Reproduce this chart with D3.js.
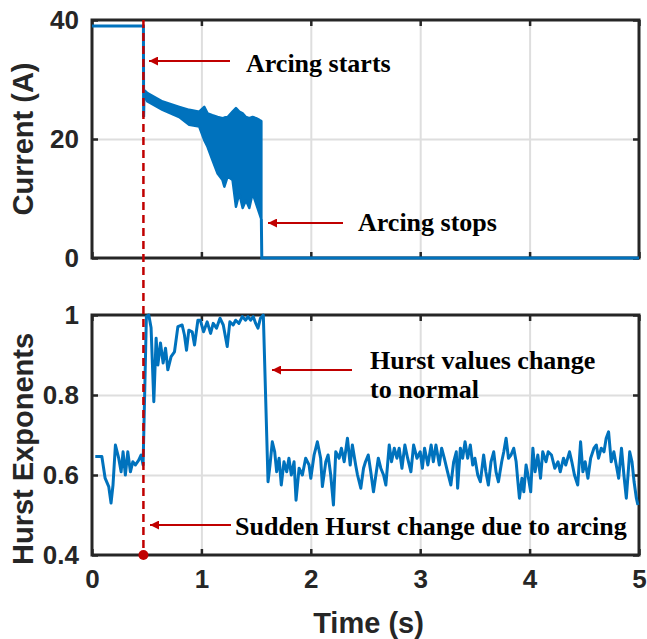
<!DOCTYPE html>
<html lang='en'>
<head>
<meta charset='utf-8'>
<title>Arcing current and Hurst exponents</title>
<script src='https://cdn.jsdelivr.net/npm/d3@7'></script>
<style>
  body { margin: 0; background: #fff; }
  .tick text { font-family: 'Liberation Sans', Arial, sans-serif; font-weight: bold; font-size: 26px; fill: #262626; }
  .lbl { font-family: 'Liberation Sans', Arial, sans-serif; font-weight: bold; font-size: 29px; fill: #262626; }
  .note { font-family: 'Liberation Serif', 'Times New Roman', serif; font-weight: bold; font-size: 26px; fill: #000; }
</style>
</head>
<body>
<script>
// ---- data ----
var xTicks = [0, 1, 2, 3, 4, 5];
var currentTicks = [0, 20, 40];
var hurstTicks = [0.4, 0.6, 0.8, 1];
var arcStart = 0.47;

// current before arcing and the first drop
var currentPre = [[0, 39], [0.47, 39], [0.472, 23.7], [0.476, 28.2], [0.5, 27.6]];
// noisy part of the current during arcing: envelope (time, upper, lower)
var bandTime  = [0.49, 0.507, 0.645, 0.797, 0.888, 0.98, 1.026, 1.056, 1.1, 1.148, 1.193, 1.21, 1.24, 1.285, 1.316, 1.346, 1.377, 1.407, 1.438, 1.468, 1.499, 1.53, 1.548];
var bandUpper = [28, 27.7, 26.3, 25.4, 24.9, 24.6, 25.4, 24.3, 24.0, 23.7, 23.5, 23.6, 23.7, 24.6, 25.2, 24.6, 24.3, 23.7, 23.5, 23.7, 23.5, 23.2, 23.0];
var bandLower = [26.8, 26.3, 24.9, 23.7, 22.4, 22.1, 19.8, 18.7, 16.5, 14.2, 13.1, 12.0, 13.7, 13.1, 8.6, 10.9, 8.4, 9.7, 8.4, 10.9, 9.2, 7.5, 6.5];
// current after arcing stops
var currentPost = [[1.548, 6.5], [1.552, 0], [5, 0]];

var hurstPoints = [[0.03,0.646],[0.09,0.646],[0.12,0.592],[0.153,0.571],[0.174,0.53],[0.192,0.575],[0.214,0.675],[0.244,0.642],[0.266,0.608],[0.284,0.658],[0.305,0.60],[0.327,0.658],[0.351,0.608],[0.373,0.633],[0.397,0.625],[0.427,0.637],[0.449,0.65],[0.467,0.625],
  [0.497,0.996],[0.519,1.0],[0.54,0.968],[0.565,0.783],[0.586,0.942],[0.602,0.875],[0.626,0.93],[0.65,0.88],[0.672,0.917],[0.693,0.863],[0.723,0.896],[0.754,0.908],[0.785,0.971],[0.824,0.975],[0.845,0.95],[0.864,0.912],[0.885,0.962],[0.916,0.958],[0.937,0.925],[0.968,0.987],
  [0.99,0.987],[1.02,0.958],[1.053,0.983],[1.084,0.954],[1.108,0.979],[1.138,0.967],[1.17,0.992],[1.2,0.975],[1.236,0.921],[1.26,0.983],[1.29,0.975],[1.313,0.987],[1.343,0.979],[1.374,0.996],[1.404,0.987],[1.426,0.996],[1.45,0.987],[1.474,0.996],[1.496,0.979],[1.517,0.967],[1.54,0.992],[1.566,1.0],
  [1.609,0.583],[1.627,0.625],[1.648,0.683],[1.67,0.658],[1.688,0.608],[1.71,0.642],[1.73,0.575],[1.755,0.633],[1.78,0.608],[1.80,0.642],[1.822,0.60],[1.847,0.633],[1.865,0.537],[1.893,0.617],[1.923,0.60],[1.953,0.642],[1.984,0.625],
  [2.0,0.592],[2.03,0.65],[2.06,0.683],[2.09,0.642],[2.106,0.571],[2.137,0.633],[2.158,0.65],[2.182,0.60],[2.207,0.525],[2.228,0.658],[2.259,0.642],[2.28,0.667],[2.305,0.633],[2.335,0.692],[2.36,0.625],[2.38,0.675],[2.41,0.625],[2.427,0.60],[2.457,0.567],[2.482,0.617],[2.50,0.633],[2.525,0.65],[2.548,0.608],[2.573,0.558],[2.595,0.60],[2.617,0.642],[2.64,0.617],[2.665,0.60],[2.686,0.575],[2.717,0.675],[2.738,0.633],[2.763,0.667],[2.787,0.642],[2.808,0.667],[2.833,0.617],[2.86,0.675],[2.885,0.642],[2.915,0.608],[2.94,0.675],[2.97,0.642],
  [3.0,0.658],[3.02,0.617],[3.04,0.667],[3.07,0.625],[3.10,0.675],[3.12,0.633],[3.144,0.675],[3.175,0.625],[3.196,0.667],[3.22,0.642],[3.25,0.608],[3.28,0.575],[3.306,0.633],[3.33,0.658],[3.342,0.567],[3.367,0.667],[3.388,0.642],[3.41,0.683],[3.434,0.642],[3.458,0.675],[3.48,0.625],[3.50,0.642],[3.526,0.60],[3.55,0.583],[3.58,0.65],[3.60,0.608],[3.623,0.575],[3.647,0.633],[3.672,0.658],[3.693,0.608],[3.715,0.583],[3.745,0.633],[3.764,0.658],[3.785,0.692],[3.807,0.642],[3.83,0.65],[3.855,0.667],[3.877,0.633],[3.89,0.592],[3.907,0.542],[3.93,0.592],[3.947,0.558],[3.968,0.625],[3.985,0.60],
  [4.01,0.558],[4.03,0.667],[4.05,0.608],[4.075,0.65],[4.10,0.592],[4.12,0.658],[4.15,0.633],[4.17,0.658],[4.20,0.65],[4.23,0.617],[4.26,0.633],[4.28,0.608],[4.31,0.642],[4.33,0.625],[4.365,0.658],[4.386,0.633],[4.41,0.60],[4.44,0.575],[4.466,0.683],[4.487,0.608],[4.508,0.633],[4.533,0.592],[4.558,0.642],[4.588,0.667],[4.61,0.675],[4.63,0.642],[4.655,0.667],[4.68,0.658],[4.70,0.692],[4.722,0.708],[4.746,0.633],[4.77,0.658],[4.792,0.625],[4.814,0.592],[4.84,0.667],[4.862,0.60],[4.884,0.542],[4.915,0.658],[4.936,0.633],[4.955,0.583],[4.976,0.542],[4.99,0.525]];

// ---- drawing ----
var width = 647, height = 639;
var blue = '#0072BD', red = '#C00000', ink = '#262626', gridCol = '#dedede';
var svg = d3.select('body').append('svg').attr('width', width).attr('height', height);

svg.append('defs').append('marker')
  .attr('id', 'head').attr('viewBox', '0 0 10 10').attr('refX', 10).attr('refY', 5)
  .attr('markerWidth', 6).attr('markerHeight', 4.5).attr('markerUnits', 'strokeWidth').attr('orient', 'auto')
  .append('path').attr('d', 'M0,0 L10,5 L0,10 z').attr('fill', red);

var left = 92, right = 639;
var x = d3.scaleLinear().domain([0, 5]).range([left, right]);
var yCur = d3.scaleLinear().domain([0, 40]).range([258, 20]);
var yHur = d3.scaleLinear().domain([0.4, 1]).range([555, 315]);

function panel(y, yTicks, showX, yFmt) {
  var top = y.range()[1], bottom = y.range()[0];
  var g = svg.append('g');
  // grid
  g.append('g').attr('transform', 'translate(0,' + bottom + ')')
    .call(d3.axisBottom(x).tickValues(xTicks.slice(1, -1)).tickSize(-(bottom - top)).tickFormat(''))
    .call(s => s.select('.domain').remove())
    .selectAll('line').attr('stroke', gridCol).attr('stroke-width', 2);
  g.append('g').attr('transform', 'translate(' + left + ',0)')
    .call(d3.axisLeft(y).tickValues(yTicks.slice(1, -1)).tickSize(-(right - left)).tickFormat(''))
    .call(s => s.select('.domain').remove())
    .selectAll('line').attr('stroke', gridCol).attr('stroke-width', 2);
  // box
  g.append('rect').attr('x', left).attr('y', top).attr('width', right - left).attr('height', bottom - top)
    .attr('fill', 'none').attr('stroke', ink).attr('stroke-width', 3);
  // inward ticks
  var xb = d3.axisBottom(x).tickValues(xTicks).tickSize(-6).tickPadding(15).tickFormat(d3.format('d'));
  if (!showX) xb.tickFormat('');
  g.append('g').attr('transform', 'translate(0,' + bottom + ')').call(xb);
  g.append('g').attr('transform', 'translate(0,' + top + ')')
    .call(d3.axisTop(x).tickValues(xTicks).tickSize(-6).tickFormat(''));
  g.append('g').attr('transform', 'translate(' + left + ',0)')
    .call(d3.axisLeft(y).tickValues(yTicks).tickSize(-6).tickPadding(13).tickFormat(yFmt));
  g.append('g').attr('transform', 'translate(' + right + ',0)')
    .call(d3.axisRight(y).tickValues(yTicks).tickSize(-6).tickFormat(''));
  g.selectAll('.domain').remove();
  g.selectAll('.tick line').filter(function () { return this.getAttribute('stroke') === 'currentColor'; })
    .attr('stroke', ink).attr('stroke-width', 2.5);
  g.selectAll('.tick text').attr('fill', ink);
  return g;
}

panel(yCur, currentTicks, false, d3.format('d'));
panel(yHur, hurstTicks, true, d => d === 1 ? '1' : d3.format('.1f')(d));

// current trace
var curLine = d3.line().x(d => x(d[0])).y(d => yCur(d[1]));
var bandData = bandTime.map((t, i) => [t, bandUpper[i], bandLower[i]]);
svg.append('path').datum(bandData)
  .attr('d', d3.area().x(d => x(d[0])).y0(d => yCur(d[2])).y1(d => yCur(d[1])))
  .attr('fill', blue).attr('stroke', blue).attr('stroke-width', 2.5).attr('stroke-linejoin', 'round');
svg.append('path').datum(currentPre).attr('d', curLine)
  .attr('fill', 'none').attr('stroke', blue).attr('stroke-width', 3);
svg.append('path').datum(currentPost).attr('d', curLine)
  .attr('fill', 'none').attr('stroke', blue).attr('stroke-width', 3);

// hurst trace
svg.append('path').datum(hurstPoints)
  .attr('d', d3.line().x(d => x(d[0])).y(d => yHur(d[1])))
  .attr('fill', 'none').attr('stroke', blue).attr('stroke-width', 3).attr('stroke-linejoin', 'round');

// axis titles
svg.append('text').attr('class', 'lbl').attr('text-anchor', 'middle')
  .attr('transform', 'translate(33,' + (yCur(20)) + ') rotate(-90)').text('Current (A)');
svg.append('text').attr('class', 'lbl').attr('text-anchor', 'middle')
  .attr('transform', 'translate(33,' + (yHur(0.7) + 14) + ') rotate(-90)').text('Hurst Exponents');
svg.append('text').attr('class', 'lbl').attr('text-anchor', 'middle')
  .attr('x', (left + right) / 2 + 3).attr('y', 633).text('Time (s)');

// arcing marker
svg.append('line').attr('x1', x(arcStart)).attr('x2', x(arcStart)).attr('y1', yCur(40)).attr('y2', yHur(0.4))
  .attr('stroke', red).attr('stroke-width', 2.5).attr('stroke-dasharray', '8,5');
svg.append('circle').attr('cx', x(arcStart)).attr('cy', yHur(0.4)).attr('r', 5).attr('fill', red);

// annotations
function note(x1, x2, yArrow, tx, ty, lines) {
  svg.append('line').attr('x1', x1).attr('x2', x2).attr('y1', yArrow).attr('y2', yArrow)
    .attr('stroke', red).attr('stroke-width', 2).attr('marker-end', 'url(#head)');
  var t = svg.append('text').attr('class', 'note').attr('x', tx).attr('y', ty);
  lines.forEach((s, i) => t.append('tspan').attr('x', tx).attr('dy', i ? 29 : 0).text(s));
}
note(230, 149, 61, 246, 72, ['Arcing starts']);
note(343, 268, 223, 358, 231, ['Arcing stops']);
note(352, 272, 370, 370, 369, ['Hurst values change', 'to normal']);
note(231, 150, 525, 235, 535, ['Sudden Hurst change due to arcing']);
</script>
</body>
</html>
